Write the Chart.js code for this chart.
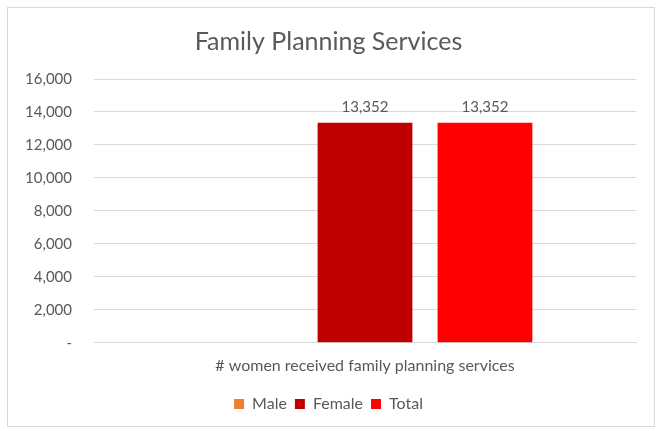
<!DOCTYPE html>
<html>
<head>
<meta charset="utf-8">
<script src="https://cdn.jsdelivr.net/npm/chart.js@4"></script>
<style>
  html, body { margin: 0; padding: 0; background: #fff; }
  #wrap { position: relative; width: 663px; height: 431px; }
  #frame { position: absolute; left: 7px; top: 7px; width: 648px; height: 420px; border: 1px solid #d9d9d9; box-sizing: border-box; }
  canvas { position: absolute; left: 0; top: 0; }
</style>
</head>
<body>
<div id="wrap">
  <div id="frame"></div>
  <canvas id="myChart" width="663" height="431"></canvas>
</div>
<script>
const categories = ['# women received family planning services'];
const maleValues = [null];
const femaleValues = [13352];
const totalValues = [13352];
const seriesNames = ['Male', 'Female', 'Total'];

const textColor = '#595959';
const fontFamily = 'Lato, "Open Sans", sans-serif';

// draws the number above each bar
const barLabels = {
  id: 'barLabels',
  afterDatasetsDraw(chart) {
    const ctx = chart.ctx;
    ctx.save();
    ctx.font = '15px ' + fontFamily;
    ctx.fillStyle = textColor;
    ctx.textAlign = 'center';
    ctx.textBaseline = 'bottom';
    chart.data.datasets.forEach((ds, i) => {
      const meta = chart.getDatasetMeta(i);
      meta.data.forEach((bar, j) => {
        const v = ds.data[j];
        if (v == null) return;
        ctx.fillText(v.toLocaleString('en-US'), bar.x, bar.y - 8);
      });
    });
    ctx.restore();
  }
};

const ctx = document.getElementById('myChart').getContext('2d');
new Chart(ctx, {
  type: 'bar',
  data: {
    labels: categories,
    datasets: [
      { label: seriesNames[0], data: maleValues, backgroundColor: '#ED7D31' },
      { label: seriesNames[1], data: femaleValues, backgroundColor: '#C00000' },
      { label: seriesNames[2], data: totalValues, backgroundColor: '#FF0000' }
    ]
  },
  options: {
    responsive: false,
    animation: false,
    layout: { padding: { left: 21, right: 27, top: 0, bottom: 9 } },
    datasets: { bar: { categoryPercentage: 0.664, barPercentage: 0.79 } },
    plugins: {
      title: {
        display: true,
        text: 'Family Planning Services',
        color: textColor,
        font: { family: fontFamily, size: 25, weight: 'normal' },
        padding: { top: 27, bottom: 22 }
      },
      legend: {
        position: 'bottom',
        labels: {
          color: textColor,
          font: { family: fontFamily, size: 16 },
          boxWidth: 10,
          boxHeight: 10,
          padding: 8
        }
      },
      tooltip: { enabled: false }
    },
    scales: {
      x: {
        afterFit(scale) { scale.height += 8; },
        grid: { display: false },
        border: { color: '#d9d9d9' },
        ticks: { color: textColor, font: { family: fontFamily, size: 16 }, padding: 5 }
      },
      y: {
        min: 0,
        max: 16000,
        afterFit(scale) { scale.width = 73; },
        grid: { color: '#d9d9d9', drawTicks: false },
        border: { display: false },
        ticks: {
          stepSize: 2000,
          color: textColor,
          font: { family: fontFamily, size: 15 },
          padding: 22,
          callback: v => v === 0 ? '-' : v.toLocaleString('en-US')
        }
      }
    }
  },
  plugins: [barLabels]
});
</script>
</body>
</html>
